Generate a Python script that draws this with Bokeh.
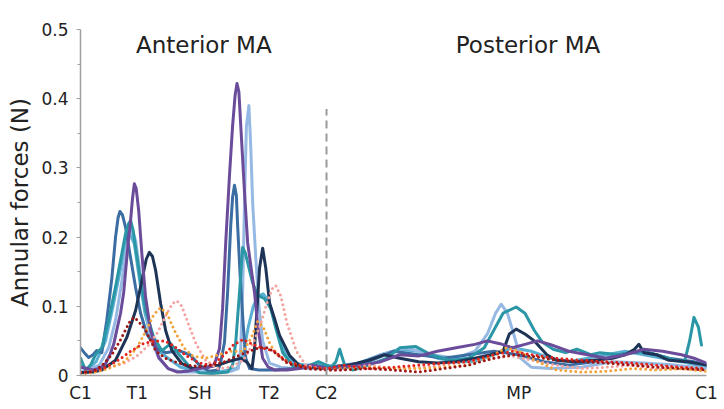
from bokeh.plotting import figure
from bokeh.models import Range1d, FixedTicker, CustomJSTickFormatter, Label
from bokeh.embed import file_html
from bokeh.resources import INLINE

# ---- data: position along annulus (%), force (N) ----
tick_pos = [0, 9.1, 19.1, 30.2, 39.3, 70, 100]
tick_labels = ["C1", "T1", "SH", "T2", "C2", "MP", "C1"]
y_ticks = [0, 0.1, 0.2, 0.3, 0.4, 0.5]
y_minor = [0.05, 0.15, 0.25, 0.35, 0.45]

purple_x = [0, 1, 2, 3, 4, 4.7, 5.3, 5.9, 6.4, 6.9, 7.2, 7.6, 8.0, 8.3, 8.6, 8.9, 9.3, 9.8, 10.4, 11.2, 12.5, 14, 15.5, 17, 19,
            20.5, 21.2, 21.6, 22.2, 22.7, 23.2, 23.8, 24.3, 24.7, 25.0, 25.3, 25.6, 26.2, 26.7, 27.2, 27.8, 28.3, 29.1, 30, 31, 33, 35, 37, 39.3,
            42, 45, 48, 51, 54, 57, 60, 63, 65, 67, 69, 71, 73, 75, 78, 81, 84, 87, 90, 93, 96, 98, 100]
purple_y = [0.012, 0.01, 0.008, 0.01, 0.017, 0.03, 0.045, 0.07, 0.09, 0.12, 0.15, 0.19, 0.224, 0.255, 0.277, 0.27, 0.238, 0.176, 0.113, 0.065, 0.026, 0.01, 0.005, 0.006, 0.01,
            0.012, 0.014, 0.022, 0.039, 0.097, 0.192, 0.289, 0.361, 0.405, 0.422, 0.41, 0.361, 0.265, 0.192, 0.159, 0.12, 0.072, 0.025, 0.012, 0.008, 0.008, 0.01, 0.015, 0.01,
            0.012, 0.015, 0.02, 0.03, 0.028, 0.035, 0.04, 0.045, 0.05, 0.046, 0.04, 0.045, 0.05, 0.045, 0.035, 0.03, 0.025, 0.03, 0.038, 0.035, 0.03, 0.025, 0.018]

lightblue_x = [0, 3, 4.5, 5.6, 6.5, 7.3, 7.9, 8.3, 8.8, 9.5, 10.3, 11.2, 12.5, 14, 16, 19, 22, 24, 25.2, 25.6, 25.9, 26.2, 26.5, 26.9, 27.2, 27.5, 28, 28.5, 29.1, 30.2, 32, 34, 36, 39.3,
               40, 44, 48, 52, 56, 60, 63, 65, 66.3, 67.2, 68.2, 69.2, 70.3, 72, 75, 80, 85, 90, 95, 100]
lightblue_y = [0.005, 0.015, 0.04, 0.08, 0.13, 0.18, 0.205, 0.21, 0.195, 0.15, 0.1, 0.055, 0.025, 0.01, 0.005, 0.005, 0.004, 0.006, 0.01, 0.04, 0.12, 0.25, 0.36, 0.39, 0.33, 0.25, 0.17, 0.1, 0.05, 0.018, 0.012, 0.01, 0.01, 0.01,
               0.01, 0.015, 0.03, 0.04, 0.03, 0.025, 0.035, 0.06, 0.09, 0.103, 0.09, 0.06, 0.025, 0.012, 0.01, 0.012, 0.02, 0.018, 0.015, 0.01]

steel_x = [0, 0.6, 1.3, 2, 2.6, 3.4, 4.2, 5.0, 5.6, 6.0, 6.3, 6.7, 7.2, 8, 8.8, 9.6, 10.6, 12, 13.6, 15.7, 17.5, 19, 20.5, 22, 22.4,
           23, 23.5, 24, 24.3, 24.6, 24.9, 25.1, 25.5, 26, 26.4, 27, 28.5, 31, 34, 37, 39.3,
           42, 46, 50, 54, 58, 62, 66, 70, 74, 78, 82, 86, 90, 94, 98, 100]
steel_y = [0.04, 0.033, 0.026, 0.03, 0.036, 0.033, 0.08, 0.14, 0.2, 0.228, 0.237, 0.232, 0.214, 0.17, 0.127, 0.09, 0.06, 0.04, 0.033, 0.036, 0.03, 0.015, 0.006, 0.008, 0.019,
           0.048, 0.12, 0.217, 0.258, 0.275, 0.26, 0.217, 0.145, 0.072, 0.025, 0.01, 0.008, 0.008, 0.01, 0.015, 0.012,
           0.015, 0.02, 0.035, 0.03, 0.025, 0.03, 0.035, 0.03, 0.02, 0.015, 0.02, 0.03, 0.035, 0.025, 0.02, 0.015]

teal_x = [0, 0.8, 1.6, 2.4, 3.4, 4.5, 5.6, 6.6, 7.2, 7.7, 8.0, 8.4, 8.8, 9.6, 10.4, 11.7, 13, 14.4, 15.8, 17.5, 19, 21, 23.5, 24.3, 24.8,
          25.4, 25.9, 26.3, 26.7, 27.5, 28.3, 29.4, 30.4, 31.2, 32.3, 33.9, 36, 38, 39.3,
          40, 40.8, 41.4, 42.2, 43.5, 46, 49, 51, 53.5, 56, 59, 62, 64.5, 66, 67.5, 69.6, 71, 72.5, 73.8, 75.5, 77.5, 79.3, 81.5, 83, 86, 89, 92, 95, 96.5, 97.3, 98, 98.7, 99.2]
teal_y = [0.025, 0.008, 0.015, 0.03, 0.04, 0.08, 0.128, 0.176, 0.205, 0.22, 0.224, 0.21, 0.185, 0.137, 0.094, 0.055, 0.036, 0.046, 0.03, 0.012, 0.004, 0.003, 0.005, 0.015, 0.048,
          0.12, 0.185, 0.178, 0.163, 0.134, 0.116, 0.111, 0.097, 0.068, 0.033, 0.014, 0.012, 0.02, 0.015,
          0.012, 0.02, 0.038, 0.015, 0.008, 0.015, 0.025, 0.04, 0.042, 0.03, 0.022, 0.025, 0.04, 0.065, 0.09, 0.099, 0.09, 0.065, 0.048, 0.038, 0.033, 0.038, 0.03, 0.033, 0.03, 0.035, 0.03, 0.022, 0.02, 0.05, 0.084, 0.07, 0.044]

navy_x = [0, 2, 3.4, 5.6, 7.4, 8.8, 9.8, 10.5, 11, 11.5, 12, 12.8, 13.6, 14.6, 16.2, 18, 20, 22, 23.6, 25.6, 26.6, 27.4, 27.8, 28.2, 28.6,
          29.1, 29.6, 30.2, 31, 31.8, 33.4, 35, 37, 39.3,
          40, 43, 46, 48.5, 51, 54, 57, 60, 63, 65.5, 67.5, 68.5, 69.6, 71, 72.5, 74.5, 76, 79, 82, 85, 87, 88.5, 89.2, 90, 92, 94, 97, 100]
navy_y = [0.004, 0.005, 0.008, 0.022, 0.055, 0.094, 0.137, 0.168, 0.178, 0.172, 0.152, 0.104, 0.065, 0.036, 0.017, 0.01, 0.012, 0.015, 0.02, 0.025, 0.019, 0.01, 0.039, 0.097, 0.155,
          0.184, 0.155, 0.105, 0.082, 0.058, 0.029, 0.014, 0.012, 0.01,
          0.01, 0.015, 0.022, 0.03, 0.025, 0.02, 0.018, 0.02, 0.025, 0.03, 0.035, 0.06, 0.067, 0.06, 0.05, 0.03, 0.022, 0.02, 0.022, 0.025, 0.03, 0.038, 0.045, 0.033, 0.03, 0.022, 0.02, 0.015]

cyan_x = [0, 1, 2.5, 4, 5.2, 6.3, 7.2, 7.9, 8.6, 9.4, 10.3, 11.3, 12.5, 14, 16, 19, 22, 25, 26, 26.8, 27.6, 28.4, 29.2, 30, 30.8, 31.6, 32.6, 34, 36, 39.3,
          42, 45, 48, 51, 54, 57, 60, 63, 66, 69, 72, 75, 78, 81, 84, 87, 90, 93, 96, 100]
cyan_y = [0.015, 0.008, 0.02, 0.05, 0.1, 0.15, 0.19, 0.205, 0.19, 0.14, 0.09, 0.055, 0.035, 0.025, 0.012, 0.005, 0.005, 0.01, 0.03, 0.07, 0.1, 0.115, 0.118, 0.108, 0.085, 0.06, 0.035, 0.018, 0.015, 0.015,
          0.01, 0.02, 0.03, 0.038, 0.035, 0.025, 0.02, 0.02, 0.03, 0.04, 0.035, 0.025, 0.02, 0.025, 0.03, 0.035, 0.03, 0.025, 0.02, 0.012]

darkred_x = [0, 2, 3.5, 5, 6.3, 7.3, 8, 8.6, 9.3, 10.4, 12, 13.5, 15, 17, 19, 21, 23, 25, 27, 28.5, 30, 31.5, 33, 36, 39.3,
             42, 46, 50, 54, 58, 62, 66, 69, 72, 76, 80, 84, 88, 92, 96, 100]
darkred_y = [0.004, 0.006, 0.015, 0.03, 0.05, 0.068, 0.08, 0.084, 0.078, 0.065, 0.036, 0.025, 0.02, 0.015, 0.013, 0.015, 0.02, 0.028, 0.035, 0.04, 0.04, 0.03, 0.018, 0.01, 0.008,
             0.008, 0.01, 0.008, 0.005, 0.01, 0.015, 0.025, 0.03, 0.028, 0.022, 0.02, 0.018, 0.015, 0.012, 0.01, 0.008]

red_x = [0, 2, 4, 6, 8, 10, 12, 13.5, 15, 17, 19, 21, 23, 24.5, 26, 27.5, 29, 31, 33, 36, 39.3,
         42, 46, 50, 54, 58, 62, 66, 69, 72, 76, 80, 84, 88, 92, 96, 100]
red_y = [0.005, 0.006, 0.012, 0.022, 0.035, 0.046, 0.05, 0.05, 0.042, 0.028, 0.018, 0.015, 0.03, 0.045, 0.052, 0.045, 0.04, 0.035, 0.02, 0.012, 0.01,
         0.015, 0.01, 0.012, 0.015, 0.018, 0.02, 0.03, 0.035, 0.03, 0.025, 0.022, 0.02, 0.018, 0.015, 0.012, 0.01]

orange_x = [0, 3, 5, 7, 9, 10.5, 11.7, 12.8, 13.8, 15, 16.5, 18, 20, 22, 24, 26, 27.3, 28.3, 29.2, 30.3, 31.5, 33, 36, 39.3,
            42, 46, 50, 54, 58, 62, 65, 68, 70, 73, 76, 80, 84, 88, 92, 96, 100]
orange_y = [0.002, 0.006, 0.012, 0.02, 0.04, 0.065, 0.088, 0.098, 0.09, 0.065, 0.04, 0.028, 0.025, 0.03, 0.035, 0.035, 0.055, 0.078, 0.07, 0.045, 0.03, 0.02, 0.012, 0.01,
            0.01, 0.012, 0.01, 0.01, 0.012, 0.015, 0.025, 0.04, 0.035, 0.02, 0.008, 0.005, 0.006, 0.01, 0.008, 0.01, 0.006]

salmon_x = [0, 4, 7, 9, 11, 12.5, 13.8, 14.7, 15.4, 16.2, 17.2, 18.5, 20, 22, 24, 26, 27.5, 28.8, 29.8, 30.6, 31.2, 32, 33, 34.5, 36, 39.3,
            42, 46, 50, 54, 58, 62, 66, 69, 72, 76, 80, 84, 88, 92, 96, 100]
salmon_y = [0.004, 0.01, 0.018, 0.028, 0.045, 0.065, 0.09, 0.104, 0.108, 0.1, 0.075, 0.045, 0.022, 0.01, 0.012, 0.022, 0.045, 0.075, 0.105, 0.125, 0.13, 0.115, 0.075, 0.035, 0.015, 0.008,
            0.008, 0.015, 0.01, 0.012, 0.015, 0.02, 0.025, 0.028, 0.022, 0.015, 0.01, 0.012, 0.015, 0.01, 0.012, 0.008]

solid_series = [
    (cyan_x, cyan_y, "#5ab0d2"),
    (lightblue_x, lightblue_y, "#96b9e4"),
    (steel_x, steel_y, "#3b6da3"),
    (teal_x, teal_y, "#2b97a6"),
    (navy_x, navy_y, "#1e3457"),
    (purple_x, purple_y, "#6b4c9a"),
]
dotted_series = [
    (salmon_x, salmon_y, "#f4a3a0"),
    (orange_x, orange_y, "#f2a33a"),
    (red_x, red_y, "#e3241c"),
    (darkred_x, darkred_y, "#9c1616"),
]

FONT = "DejaVu Sans"

p = figure(width=720, height=405, output_backend="svg", toolbar_location=None,
           x_range=Range1d(0, 100), y_range=Range1d(0, 0.5),
           min_border_left=80, min_border_right=14, min_border_top=29, min_border_bottom=30)
p.outline_line_color = None
p.xgrid.visible = False
p.ygrid.visible = False

for xs, ys, c in solid_series:
    p.line(xs, ys, line_color=c, line_width=3, line_join="round", line_cap="round")
for xs, ys, c in dotted_series:
    p.line(xs, ys, line_color=c, line_width=3, line_dash="0 5", line_cap="round", line_join="round")

# dashed separator at C2
c2 = tick_pos[4]
p.segment(x0=[c2], y0=[0], x1=[c2], y1=[0.385], line_color="#9a9a9a", line_width=2, line_dash="8 5")

# axes
yax = p.yaxis[0]
yax.ticker = FixedTicker(ticks=y_ticks, minor_ticks=y_minor)
yax.formatter = CustomJSTickFormatter(code="return tick == 0 ? '0' : tick.toFixed(1);")
yax.axis_label = "Annular forces (N)"
yax.axis_label_text_font = FONT
yax.axis_label_text_font_size = "23px"
yax.axis_label_text_font_style = "normal"
yax.axis_label_text_color = "#222222"
yax.axis_label_standoff = 5
yax.major_label_text_font = FONT
yax.major_label_text_font_size = "17px"
yax.major_label_text_color = "#222222"
yax.major_label_standoff = 8
yax.axis_line_color = "#a0a0a0"
yax.axis_line_width = 1.5
yax.major_tick_line_color = "#a0a0a0"
yax.minor_tick_line_color = "#a0a0a0"
yax.major_tick_out = 4
yax.major_tick_in = 0
yax.minor_tick_out = 3
yax.minor_tick_in = 0

xax = p.xaxis[0]
xax.ticker = FixedTicker(ticks=tick_pos, minor_ticks=[])
xax.formatter = CustomJSTickFormatter(args=dict(pos=tick_pos, labs=tick_labels),
    code="const i = pos.findIndex(v => Math.abs(v - tick) < 1e-6); return i >= 0 ? labs[i] : '';")
xax.major_label_text_font = FONT
xax.major_label_text_font_size = "17px"
xax.major_label_text_color = "#222222"
xax.major_label_standoff = 7
xax.axis_line_color = "#a0a0a0"
xax.axis_line_width = 1.5
xax.major_tick_line_color = None
xax.minor_tick_line_color = None
xax.major_tick_out = 0
xax.major_tick_in = 0

for txt, xv in [("Anterior MA", 19.7), ("Posterior MA", 71.5)]:
    p.add_layout(Label(x=xv, y=0.477, text=txt, text_font=FONT, text_font_size="23px",
                       text_color="#222222", text_align="center", text_baseline="middle"))

open("out.html", "w").write(file_html(p, INLINE))
